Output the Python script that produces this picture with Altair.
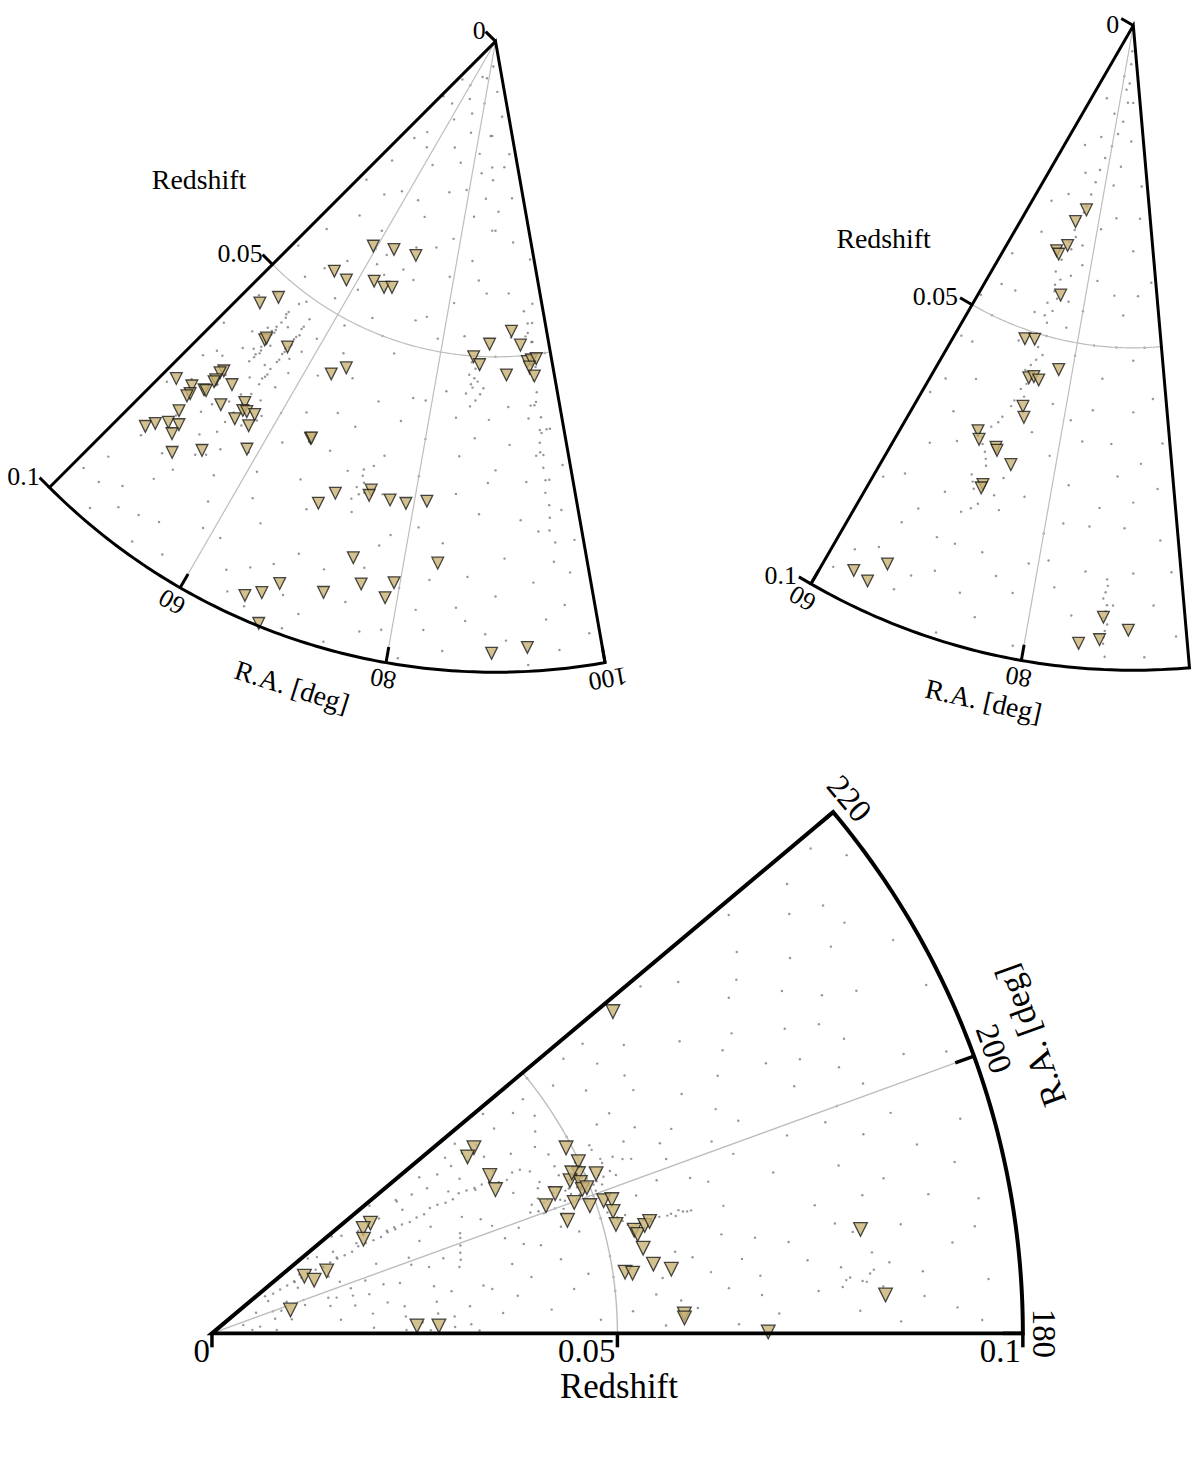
import altair as alt
import pandas as pd

# ------------------------------------------------------------------ data
# Panel 1 (R.A. 45-100 deg, z 0-0.1): triangle sources
p1_tri_ra = [59.16, 63.98, 69.59, 47.98, 49.70, 52.28, 52.34, 55.75, 50.49, 50.25,
             50.43, 50.40, 46.56, 48.60, 52.48, 50.07, 50.34, 49.07, 48.95, 49.40,
             52.90, 55.23, 55.60, 56.10, 57.16, 55.35, 57.28, 47.71, 48.31, 49.34,
             50.44, 50.48, 51.80, 54.33, 58.63, 65.00, 65.10, 63.71, 54.96, 57.99,
             63.15, 65.61, 67.17, 93.15, 88.87, 94.69, 86.03, 87.18, 91.88, 95.68,
             96.42, 97.32, 95.94, 96.62, 65.43, 70.48, 74.51, 74.44, 77.05, 79.02,
             81.51, 69.01, 74.60, 83.68, 72.66, 76.09, 79.38, 78.77, 89.63, 93.01,
             68.29, 67.02, 65.66, 67.86]
p1_tri_z = [0.0378, 0.0367, 0.0362, 0.0558, 0.0532, 0.0598, 0.0594, 0.0586, 0.0677, 0.0683,
            0.0696, 0.0700, 0.0736, 0.0728, 0.0686, 0.0720, 0.0719, 0.0739, 0.0745, 0.0771,
            0.0722, 0.0697, 0.0709, 0.0707, 0.0704, 0.0727, 0.0724, 0.0825, 0.0811, 0.0796,
            0.0788, 0.0806, 0.0829, 0.0798, 0.0757, 0.0694, 0.0693, 0.0588, 0.0445, 0.0446,
            0.0426, 0.0428, 0.0423, 0.0460, 0.0480, 0.0483, 0.0501, 0.0513, 0.0529, 0.0510,
            0.0508, 0.0507, 0.0519, 0.0534, 0.0569, 0.0760, 0.0738, 0.0747, 0.0746, 0.0746,
            0.0737, 0.0784, 0.0849, 0.0832, 0.0915, 0.0886, 0.0873, 0.0899, 0.0970, 0.0962,
            0.0925, 0.0949, 0.0964, 0.0996]

# Panel 2 (R.A. 60-95 deg)
p2_tri_ra = [75.75, 73.59, 73.37, 71.19, 71.94, 74.92, 70.91, 72.55, 77.77, 73.48,
             74.18, 75.06, 73.84, 74.40, 69.03, 69.56, 71.97, 72.21, 74.42, 71.86,
             71.79, 65.46, 62.85, 64.43, 87.11, 89.53, 86.85, 84.94]
p2_tri_z = [0.0295, 0.0317, 0.0356, 0.0369, 0.0373, 0.0433, 0.0514, 0.0510, 0.0546, 0.0570,
            0.0566, 0.0569, 0.0615, 0.0631, 0.0673, 0.0685, 0.0688, 0.0692, 0.0707, 0.0749,
            0.0755, 0.0918, 0.0950, 0.0955, 0.0919, 0.0938, 0.0954, 0.0962]

# Panel 3 (R.A. 180-220 deg)
p3_tri_ra = [215.34, 214.63, 209.60, 206.89, 214.80, 214.77, 211.87, 208.52, 211.73, 207.45,
             196.57, 182.09, 181.88, 207.65, 205.11, 203.56, 203.09, 202.27, 201.23, 202.58,
             202.16, 199.86, 200.93, 198.68, 198.72, 198.50, 196.91, 195.09, 197.64, 193.72,
             193.09, 194.01, 194.34, 191.17, 188.90, 187.95, 188.43, 188.14, 182.35, 181.87,
             218.75, 189.11, 183.26, 180.15, 204.04, 201.23]
p3_tri_z = [0.0396, 0.0383, 0.0394, 0.0392, 0.0238, 0.0227, 0.0220, 0.0161, 0.0134, 0.0142,
            0.0101, 0.0253, 0.0280, 0.0493, 0.0499, 0.0493, 0.0480, 0.0491, 0.0490, 0.0513,
            0.0457, 0.0475, 0.0441, 0.0492, 0.0510, 0.0520, 0.0517, 0.0516, 0.0460, 0.0536,
            0.0539, 0.0550, 0.0557, 0.0542, 0.0551, 0.0572, 0.0515, 0.0524, 0.0583, 0.0583,
            0.0634, 0.0810, 0.0832, 0.0686, 0.0486, 0.0496]

# background galaxies (ra, z)
p1_bg = [(47, 0.030), (50, 0.020), (55, 0.012), (60, 0.008), (70, 0.006), (80, 0.010), (88, 0.015), (95, 0.012), (85, 0.004), (75, 0.015),
         (48, 0.040), (52, 0.035), (58, 0.028), (63, 0.022), (68, 0.030), (73, 0.025), (78, 0.032), (83, 0.028), (90, 0.030), (96, 0.025),
         (99, 0.035), (93, 0.040), (86, 0.038), (81, 0.042), (76, 0.045), (71, 0.040), (66, 0.048), (61, 0.045), (56, 0.042), (51, 0.048),
         (47, 0.055), (50, 0.060), (59, 0.055), (62, 0.060), (67, 0.058), (72, 0.052), (77, 0.058), (82, 0.056), (89, 0.060), (92, 0.058),
         (98, 0.062), (99, 0.050), (94, 0.070), (90, 0.068), (85, 0.066), (80, 0.064), (75, 0.068), (70, 0.065), (65, 0.070), (60, 0.068),
         (48, 0.066), (46, 0.075), (50, 0.080), (53, 0.085), (57, 0.082), (61, 0.078), (64, 0.085), (68, 0.080), (73, 0.078), (77, 0.082),
         (81, 0.078), (84, 0.080), (88, 0.075), (91, 0.082), (95, 0.078), (98, 0.085), (99, 0.095), (95, 0.092), (91, 0.095), (86, 0.090),
         (83, 0.094), (79, 0.095), (75, 0.092), (71, 0.096), (67, 0.090), (63, 0.094), (59, 0.090), (55, 0.093), (51, 0.095), (47, 0.090),
         (49, 0.098), (57, 0.097), (66, 0.098), (74, 0.099), (85, 0.097), (93, 0.099), (97, 0.070), (87, 0.085), (69, 0.087), (62, 0.072),
         (46.5, 0.012), (49, 0.008), (53, 0.018), (57, 0.020), (62, 0.014), (66, 0.010), (72, 0.012), (77, 0.006), (82, 0.018), (92, 0.008),
         (97, 0.018), (94, 0.020), (89, 0.022), (84, 0.021), (79, 0.024), (74, 0.020), (69, 0.018), (64, 0.028), (59, 0.035), (54, 0.030),
         (49, 0.025), (46, 0.045), (53, 0.045), (58, 0.048), (63, 0.038), (69, 0.035), (74, 0.034), (79, 0.038), (84, 0.035), (88, 0.040),
         (95, 0.032), (98, 0.042), (97, 0.048), (93, 0.047), (90, 0.050), (84, 0.047), (79, 0.048), (74, 0.046), (69, 0.050), (64, 0.055),
         (58, 0.062), (54, 0.051), (49, 0.053), (46, 0.062), (47, 0.068), (51, 0.070), (58, 0.070), (63, 0.066), (67, 0.064), (72, 0.060),
         (76, 0.062), (79, 0.058), (84, 0.060), (87, 0.063), (92, 0.064), (95, 0.060), (99, 0.068), (98, 0.075), (93, 0.076), (89, 0.070),
         (85, 0.072), (80, 0.070), (76, 0.074), (71, 0.072), (66, 0.076), (62, 0.082), (59, 0.076), (55, 0.080), (52, 0.088), (48, 0.084),
         (46, 0.094), (50, 0.092), (54, 0.098), (58, 0.086), (61, 0.090), (65, 0.092), (69, 0.094), (72, 0.088), (76, 0.086), (80, 0.088),
         (83, 0.086), (87, 0.092), (90, 0.088), (94, 0.086), (97, 0.090), (99, 0.080), (96, 0.097), (89, 0.094), (81, 0.099), (77, 0.096),
         (70, 0.099), (64, 0.097), (60, 0.099), (53, 0.094), (48, 0.094), (82, 0.091), (78, 0.080), (68, 0.070), (62, 0.051), (88, 0.055),
         (52.6, 0.054), (52.7, 0.056), (52.5, 0.057), (52.8, 0.058), (52.4, 0.059), (52.7, 0.060), (52.5, 0.061), (52.9, 0.062), (52.6, 0.063), (52.4, 0.064),
         (52.8, 0.055), (52.3, 0.058), (52.5, 0.0545), (52.7, 0.0575), (52.6, 0.0595), (52.8, 0.0615), (52.5, 0.0625), (52.6, 0.0585),
         (56.2, 0.053), (56.0, 0.055), (55.9, 0.057), (56.1, 0.058), (55.7, 0.060), (55.8, 0.061), (55.5, 0.063), (55.6, 0.064),
         (55.3, 0.065), (55.4, 0.066), (56.3, 0.056), (55.6, 0.059), (56.1, 0.0545), (55.9, 0.0585), (55.7, 0.0615), (55.5, 0.0645),
         (55.8, 0.0595), (56.0, 0.0565), (55.3, 0.068), (55.0, 0.070), (54.8, 0.072), (54.6, 0.074), (54.5, 0.076),
         (51.5, 0.058), (53.5, 0.060), (54, 0.056), (54.5, 0.063), (53.8, 0.066), (51.8, 0.062), (53.2, 0.052), (54.2, 0.069), (57, 0.060), (57.5, 0.065),
         (58, 0.058), (56.8, 0.068), (53.5, 0.071), (51, 0.068), (50, 0.072), (52, 0.073), (56.5, 0.073), (57.8, 0.071), (54, 0.081), (56, 0.078),
         (96.0, 0.043), (96.5, 0.045), (95.8, 0.047), (96.8, 0.048), (96.2, 0.050), (97.0, 0.052), (96.4, 0.054), (96.7, 0.056), (96.1, 0.058), (96.9, 0.060),
         (96.5, 0.062), (96.3, 0.064), (96.6, 0.066), (96.4, 0.068), (97.2, 0.050), (95.9, 0.053), (96.3, 0.0465), (96.6, 0.0515), (96.4, 0.0575), (96.7, 0.0625),
         (96.2, 0.0655), (96.5, 0.070), (96.3, 0.072), (96.6, 0.074), (96.5, 0.076), (96.3, 0.078), (96.8, 0.080), (96.4, 0.083), (95.5, 0.058), (97.5, 0.062),
         (95.6, 0.066), (97.4, 0.045),
         (85.5, 0.053), (86.2, 0.055), (87.0, 0.054), (86.5, 0.052), (85.2, 0.056), (87.5, 0.056), (86.8, 0.057),
         (86, 0.058), (85.8, 0.051), (87.2, 0.052), (86.4, 0.0535), (85.9, 0.0545),
         (73.0, 0.072), (73.4, 0.073), (72.7, 0.074), (73.2, 0.075), (72.9, 0.071), (74, 0.070), (72.5, 0.076), (73.8, 0.0745),
         (62, 0.040), (64.5, 0.041), (66, 0.043), (68, 0.039), (60, 0.038),
         (87, 0.015), (88.5, 0.020), (86.5, 0.025), (89, 0.030), (91, 0.027),
         (49, 0.066), (50.5, 0.063), (51.5, 0.075), (49.5, 0.078), (48, 0.072), (51, 0.084), (53, 0.078)]

p2_bg = [(87, 0.006), (86.5, 0.009), (86, 0.012), (84, 0.015), (82, 0.017), (80, 0.019), (78, 0.021), (77, 0.023), (76.5, 0.025), (76, 0.027),
         (75.5, 0.029), (74.5, 0.031), (74, 0.033), (73.5, 0.035), (74.5, 0.036), (73, 0.038), (72.5, 0.040), (74, 0.041), (73.5, 0.043), (72.8, 0.045),
         (74.2, 0.046), (73.8, 0.048), (72.5, 0.050), (73.5, 0.052), (74.6, 0.053), (73.2, 0.055), (74.0, 0.057), (72.8, 0.059), (73.6, 0.060), (72.2, 0.062),
         (71.5, 0.064), (70.5, 0.066), (69.8, 0.068), (70.8, 0.070), (71.5, 0.072), (70.2, 0.074), (71.0, 0.076), (72.0, 0.078), (70.5, 0.080), (76.0, 0.040),
         (76.8, 0.044), (77.5, 0.048), (71.0, 0.047), (70.0, 0.052), (74, 0.073), (73.5, 0.076), (74.5, 0.078),
         (75.2, 0.030), (74.8, 0.034), (73.2, 0.042), (74.4, 0.044), (73.0, 0.047), (74.4, 0.050), (73.8, 0.054), (72.6, 0.056), (73.4, 0.058), (72.4, 0.061),
         (71.2, 0.065), (70.2, 0.069), (71.2, 0.071), (70.6, 0.075), (71.4, 0.079),
         (87.3, 0.086), (87.2, 0.088), (87.4, 0.090), (87.1, 0.092), (87.3, 0.094), (87.2, 0.096), (87.4, 0.098), (87.0, 0.089), (87.5, 0.093),
         (87.3, 0.091), (87.2, 0.095), (87.4, 0.087),
         (62, 0.040), (65, 0.030), (68, 0.020), (70, 0.012), (80, 0.008), (90, 0.012), (93, 0.025), (90, 0.035), (85, 0.030), (82, 0.040),
         (88, 0.045), (92, 0.050), (85, 0.055), (80, 0.052), (78, 0.060), (83, 0.065), (90, 0.060), (94, 0.065), (88, 0.070), (82, 0.072),
         (77, 0.075), (66, 0.060), (63, 0.055), (61, 0.065), (64, 0.072), (68, 0.078), (61, 0.080), (65, 0.085), (62, 0.092), (67, 0.095),
         (70, 0.090), (74, 0.085), (78, 0.090), (81, 0.084), (84, 0.092), (90, 0.085), (93, 0.080), (94, 0.095), (91, 0.098), (79, 0.098),
         (75, 0.095), (72, 0.099), (69, 0.085), (85, 0.078), (89, 0.078), (80, 0.080), (66, 0.045), (64, 0.050), (60.5, 0.048), (76, 0.065),
         (88, 0.004), (84, 0.010), (78, 0.014), (74, 0.018), (72, 0.024), (69, 0.028), (66, 0.035), (63, 0.045), (61, 0.055), (62, 0.062),
         (65, 0.066), (67, 0.070), (63, 0.078), (66, 0.082), (64, 0.090), (61, 0.096), (68, 0.092), (71, 0.085), (73, 0.092), (76, 0.088),
         (79, 0.085), (82, 0.088), (85, 0.085), (88, 0.090), (92, 0.090), (94, 0.085), (93, 0.072), (91, 0.068), (87, 0.065), (84, 0.060),
         (81, 0.062), (79, 0.068), (82, 0.078), (86, 0.075), (90, 0.074), (93, 0.058), (90, 0.052), (87, 0.050), (83, 0.050), (80, 0.045),
         (78, 0.038), (81, 0.032), (85, 0.022), (89, 0.018), (92, 0.030), (94, 0.040), (91, 0.042), (86, 0.042), (83, 0.025), (77, 0.035)]

p3_bg = [(201.8, 0.0485), (201, 0.046), (202.5, 0.050), (200.5, 0.043), (202.2, 0.053), (201.5, 0.044), (203, 0.055), (200, 0.045), (202, 0.047), (203.5, 0.051),
         (201.2, 0.049), (202.8, 0.052), (200.8, 0.042), (203.2, 0.048), (201.6, 0.051), (199.5, 0.046), (204, 0.050), (202.4, 0.0455), (200.2, 0.048), (203.8, 0.054),
         (201.9, 0.0425), (204.5, 0.047), (199.8, 0.050), (202.6, 0.056), (201.4, 0.0535),
         (202.1, 0.0475), (201.3, 0.0505), (202.9, 0.0495), (200.6, 0.0465), (203.4, 0.0455), (201.7, 0.0445), (202.3, 0.0515), (200.9, 0.0515), (203.6, 0.0525), (199.9, 0.0435),
         (202, 0.0495), (201.2, 0.0475), (202.7, 0.0465), (203.1, 0.050), (200.4, 0.0505), (201.8, 0.052), (202.5, 0.0435), (203.9, 0.049), (200.7, 0.0485), (204.2, 0.0525),
         (199.4, 0.049), (205.2, 0.0495), (198.8, 0.0455), (205.8, 0.052), (204.8, 0.0445),
         (207, 0.044), (208, 0.047), (206.5, 0.052), (209, 0.050), (197, 0.045), (196.5, 0.050), (198, 0.055), (205, 0.056), (207.5, 0.041), (210, 0.046),
         (211, 0.043), (212, 0.047), (208.5, 0.054), (195.5, 0.047), (196, 0.053),
         (194.6, 0.053), (194.4, 0.054), (194.7, 0.055), (194.3, 0.056), (194.6, 0.057), (194.5, 0.058), (194.2, 0.059), (194.5, 0.060), (194.4, 0.061), (194.7, 0.0565),
         (194.3, 0.0535), (194.8, 0.0595), (196, 0.052), (197, 0.051), (195.3, 0.0525), (194.5, 0.0545), (194.6, 0.0585), (194.4, 0.0605), (194.8, 0.0555), (195.7, 0.052),
         (213, 0.009), (212.5, 0.011), (212, 0.013), (211.5, 0.015), (211, 0.017), (210.5, 0.019), (210.8, 0.021), (210, 0.023), (210.4, 0.025), (209.8, 0.027),
         (209.5, 0.029), (209.9, 0.031), (209.2, 0.033), (209.6, 0.035), (209, 0.037), (208.8, 0.039), (211.3, 0.018), (210.2, 0.026), (209.3, 0.030), (212.2, 0.014),
         (210.6, 0.016), (210.2, 0.020), (209.7, 0.024), (209.4, 0.028), (209.1, 0.034), (208.6, 0.037), (211.8, 0.012), (212.8, 0.010),
         (212.4, 0.012), (211.6, 0.014), (211.1, 0.016), (210.8, 0.018), (210.4, 0.022), (209.9, 0.025), (209.6, 0.026), (209.7, 0.032), (209.3, 0.036), (208.9, 0.038),
         (207.8, 0.040), (208.2, 0.042),
         (195, 0.0316), (196.5, 0.032), (198, 0.0322), (199.5, 0.0325), (201, 0.0328), (202, 0.033),
         (215, 0.022), (214.5, 0.025), (215.5, 0.028), (214, 0.032), (215, 0.036), (215.5, 0.040), (216, 0.043), (214, 0.038),
         (214.8, 0.030), (215.2, 0.034), (216.2, 0.046), (215.8, 0.038),
         (186, 0.016), (187, 0.020), (185, 0.024), (188, 0.028), (186, 0.032), (189, 0.035), (184, 0.030), (183, 0.026), (190, 0.022), (182, 0.020),
         (181, 0.024), (180.8, 0.027), (181.5, 0.030), (180.6, 0.033), (196, 0.016), (195, 0.018), (197, 0.015),
         (185, 0.005), (195, 0.004), (205, 0.006), (215, 0.008), (190, 0.010), (200, 0.012), (218, 0.015), (198, 0.018), (193, 0.015), (203, 0.022),
         (199, 0.026), (196, 0.022), (213, 0.028), (201, 0.037), (198, 0.038), (203, 0.036), (211, 0.034), (217, 0.032), (190, 0.040), (187, 0.045),
         (184, 0.042), (182, 0.048), (188, 0.050), (185, 0.055), (190, 0.058), (183, 0.060), (181, 0.065), (186, 0.068), (189, 0.072), (184, 0.075),
         (182, 0.080), (187, 0.082), (185, 0.088), (182, 0.092), (188, 0.095), (191, 0.090), (193, 0.085), (195, 0.080), (192, 0.076), (196, 0.072),
         (199, 0.068), (197, 0.064), (201, 0.060), (204, 0.062), (207, 0.065), (210, 0.060), (213, 0.055), (216, 0.052), (219, 0.050), (218, 0.058),
         (215, 0.062), (212, 0.068), (209, 0.072), (206, 0.076), (203, 0.078), (200, 0.082), (198, 0.088), (202, 0.092), (205, 0.086), (208, 0.090),
         (211, 0.082), (214, 0.078), (217, 0.072), (219, 0.068), (216, 0.088), (213, 0.093), (210, 0.097), (206, 0.098), (201, 0.097), (196, 0.096),
         (219, 0.095), (217, 0.098), (194, 0.065), (187, 0.062), (181, 0.085), (190, 0.068), (199, 0.075), (213, 0.085), (208, 0.080), (202, 0.070),
         (186, 0.078), (189, 0.086), (191, 0.050), (196, 0.040), (199, 0.040), (214, 0.048),
         (183, 0.008), (188, 0.006), (193, 0.008), (198, 0.009), (203, 0.010), (208, 0.012), (214, 0.013), (217, 0.020), (219, 0.025), (216, 0.028),
         (212, 0.021), (206, 0.016), (202, 0.017), (199, 0.020), (195, 0.024), (191, 0.018), (188, 0.024), (185, 0.028), (182, 0.032), (184, 0.036),
         (187, 0.038), (190, 0.034), (193, 0.038), (195, 0.042), (192, 0.044), (189, 0.047), (186, 0.050), (183, 0.052), (181, 0.056), (184, 0.058),
         (187, 0.056), (189, 0.060), (191, 0.064), (188, 0.066), (185, 0.064), (182, 0.070), (184, 0.068), (187, 0.074), (190, 0.078), (192, 0.082),
         (189, 0.080), (186, 0.084), (183, 0.088), (181, 0.095), (184, 0.096), (187, 0.092), (190, 0.096), (193, 0.094), (195, 0.090), (197, 0.084),
         (199, 0.080), (201, 0.086), (203, 0.084), (205, 0.080), (207, 0.084), (209, 0.086), (212, 0.090), (215, 0.092), (218, 0.090), (219, 0.082),
         (216, 0.080), (213, 0.076), (210, 0.074), (207, 0.070), (204, 0.068), (201, 0.066), (198, 0.062), (199, 0.058), (203, 0.060), (206, 0.058),
         (209, 0.056), (212, 0.060), (215, 0.058), (218, 0.055), (217, 0.048), (219, 0.043), (218, 0.038), (217, 0.036), (213, 0.040), (212, 0.036),
         (206, 0.030), (205, 0.034), (204, 0.028), (201, 0.026), (197, 0.028), (198, 0.030), (192, 0.028), (190, 0.030), (194, 0.020), (197, 0.012),
         (200, 0.008), (210, 0.008), (216, 0.016), (219, 0.019), (214, 0.018), (210, 0.040), (208, 0.043), (206, 0.047), (204, 0.044), (205, 0.041),
         (184.5, 0.081), (185, 0.079), (184, 0.083), (185.5, 0.082), (184.2, 0.078), (184.6, 0.0805), (185.2, 0.0815), (184.8, 0.0785)]

# axes / ticks
p1_ra_ticks = [60, 80, 100]
p2_ra_ticks = [60, 80]
p3_ra_ticks = [180, 200, 220]
p1_grid_ra = [60, 80]
p2_grid_ra = [80]
p3_grid_ra = [200]
z_ticks = [0, 0.05, 0.1]
z_labels = ["0", "0.05", "0.1"]

# ------------------------------------------------------------------ style
FONT = "Liberation Serif"
W, H = 1190, 1420
GRID = "#bdbdbd"
TRI_FILL = "#c8b273"
TRI = "M-1,-1L1,-1L0,1Z"
XS = alt.Scale(domain=[8, 8 + W], nice=False, zero=False)
YS = alt.Scale(domain=[8, 8 + H], nice=False, zero=False, reverse=True)

PANELS = [
    dict(ax=498, ay=38, k=6340, lo=45, hi=100, grid=p1_grid_ra, rticks=p1_ra_ticks,
         tri_ra=p1_tri_ra, tri_z=p1_tri_z, bg=p1_bg, fw=3, tw=3, ztl=14, rtl=16, gw=1.2,
         tfs=26, lfs=28, tsize=140, dot=6, zoff=14, zbase="middle", zdx=0, zdy=-1, z0dy=0,
         rs=(200, 178)),
    dict(ax=1139, ay=22, k=6480, lo=60, hi=95, grid=p2_grid_ra, rticks=p2_ra_ticks,
         tri_ra=p2_tri_ra, tri_z=p2_tri_z, bg=p2_bg, fw=3, tw=3, ztl=14, rtl=16, gw=1.2,
         tfs=26, lfs=28, tsize=140, dot=6, zoff=14, zbase="middle", zdx=-2, zdy=-1, z0dy=8,
         rs=(888, 238)),
    dict(ax=213, ay=1336.5, k=8150, lo=180, hi=220, grid=p3_grid_ra, rticks=p3_ra_ticks,
         tri_ra=p3_tri_ra, tri_z=p3_tri_z, bg=p3_bg, fw=4, tw=3.5, ztl=14, rtl=20, gw=1.4,
         tfs=33, lfs=35, tsize=190, dot=6, zoff=0, zbase="top", zdx=-2, zdy=3, z0dy=0,
         rs=(622, 1390)),
]


def proj(p, z="datum.z", ra="datum.ra"):
    return (f"{p['ax']} - {p['k']} * ({z}) * cos(({ra}) * PI / 180)",
            f"{p['ay']} + {p['k']} * ({z}) * sin(({ra}) * PI / 180)")


def XY(xf, yf):
    return dict(x=alt.X(f"{xf}:Q", scale=XS, axis=None), y=alt.Y(f"{yf}:Q", scale=YS, axis=None))


def build(p):
    lo, hi = p["lo"], p["hi"]
    px, py = proj(p)
    E = XY("px", "py")
    R = dict(**XY("px0", "py0"), x2="px1:Q", y2="py1:Q")
    out = []

    bg = pd.DataFrame(p["bg"], columns=["ra", "z"])
    out.append(alt.Chart(bg).transform_calculate(px=px, py=py)
               .mark_circle(size=p["dot"], color="#5e5e5e", opacity=0.65).encode(**E))

    out.append(alt.Chart(alt.sequence(lo, hi + 0.25, 0.5, as_="ra"))
               .transform_calculate(z="0.05").transform_calculate(px=px, py=py)
               .mark_line(color=GRID, strokeWidth=p["gw"]).encode(**E, order="ra:Q"))

    g0x, g0y = proj(p, "0")
    g1x, g1y = proj(p, "0.1")
    out.append(alt.Chart(pd.DataFrame({"ra": p["grid"]}))
               .transform_calculate(px0=g0x, py0=g0y, px1=g1x, py1=g1y)
               .mark_rule(color=GRID, strokeWidth=p["gw"]).encode(**R))

    tri = pd.DataFrame({"ra": p["tri_ra"], "z": p["tri_z"]})
    out.append(alt.Chart(tri).transform_calculate(px=px, py=py)
               .mark_point(shape=TRI, filled=True, size=p["tsize"], fill=TRI_FILL, fillOpacity=0.8,
                           stroke="#1a1a1a", strokeOpacity=0.8, strokeWidth=1.3).encode(**E))

    out.append(alt.Chart(alt.sequence(lo, hi + 1.25, 0.5, as_="s"))
               .transform_calculate(
                   ra=f"datum.s <= {hi} ? datum.s : (datum.s > {hi} + 0.75 ? {lo} : {hi})",
                   z=f"(datum.s > {hi} && datum.s < {hi} + 0.75) ? 0 : 0.1")
               .transform_calculate(px=px, py=py)
               .mark_line(color="black", strokeWidth=p["fw"], strokeCap="square", strokeJoin="miter")
               .encode(**E, order="s:Q"))

    sn = f"sin({lo} * PI / 180)"
    cs = f"cos({lo} * PI / 180)"
    zx, zy = proj(p, "datum.z", str(lo))
    ztk = (alt.Chart(pd.DataFrame({"z": z_ticks, "label": z_labels}))
           .transform_calculate(px0=zx, py0=zy)
           .transform_calculate(px1=f"datum.px0 - {p['ztl']} * {sn}",
                                py1=f"datum.py0 - {p['ztl']} * {cs}",
                                lx=f"datum.px0 - {p['zoff']} * {sn}",
                                ly=f"datum.py0 - {p['zoff']} * {cs} + (datum.z == 0 ? {p['z0dy']} : 0)"))
    out.append(ztk.mark_rule(color="black", strokeWidth=p["tw"]).encode(**R))
    out.append(ztk.mark_text(font=FONT, fontSize=p["tfs"], align="right", baseline=p["zbase"],
                             dx=p["zdx"], dy=p["zdy"], color="black")
               .encode(**XY("lx", "ly"), text="label:N"))

    Lr = p["rtl"] / p["k"]
    a0x, a0y = proj(p, "0.1")
    a1x, a1y = proj(p, f"{0.1 - Lr:.6f}")
    lbx, lby = proj(p, "0.1025")
    rtk = (alt.Chart(pd.DataFrame({"ra": p["rticks"], "label": [str(v) for v in p["rticks"]]}))
           .transform_calculate(px0=a0x, py0=a0y, px1=a1x, py1=a1y, lx=lbx, ly=lby,
                                ang="270 - datum.ra"))
    out.append(rtk.mark_rule(color="black", strokeWidth=p["tw"]).encode(**R))
    out.append(rtk.mark_text(font=FONT, fontSize=p["tfs"], align="center", baseline="middle", color="black")
               .encode(**XY("lx", "ly"), text="label:N", angle=alt.Angle("ang:Q", scale=None)))

    mid = (lo + hi) / 2
    out.append(alt.Chart(pd.DataFrame({"ra": [mid], "z": [0.1075], "label": ["R.A. [deg]"]}))
               .transform_calculate(px=px, py=py, ang="(450 - datum.ra) % 360")
               .mark_text(font=FONT, fontSize=p["lfs"], align="center", baseline="middle", color="black")
               .encode(**E, text="label:N", angle=alt.Angle("ang:Q", scale=None)))

    out.append(alt.Chart(pd.DataFrame({"px": [p["rs"][0]], "py": [p["rs"][1]], "label": ["Redshift"]}))
               .mark_text(font=FONT, fontSize=p["lfs"], align="center", baseline="middle", color="black")
               .encode(**E, text="label:N"))
    return out


layers = []
for pan in PANELS:
    layers += build(pan)

chart = (alt.layer(*layers)
         .properties(width=W, height=H, padding=0, autosize=alt.AutoSizeParams(type="none"))
         .configure_view(stroke=None))

chart.save("out.html", embed_options={"renderer": "svg", "actions": False})
